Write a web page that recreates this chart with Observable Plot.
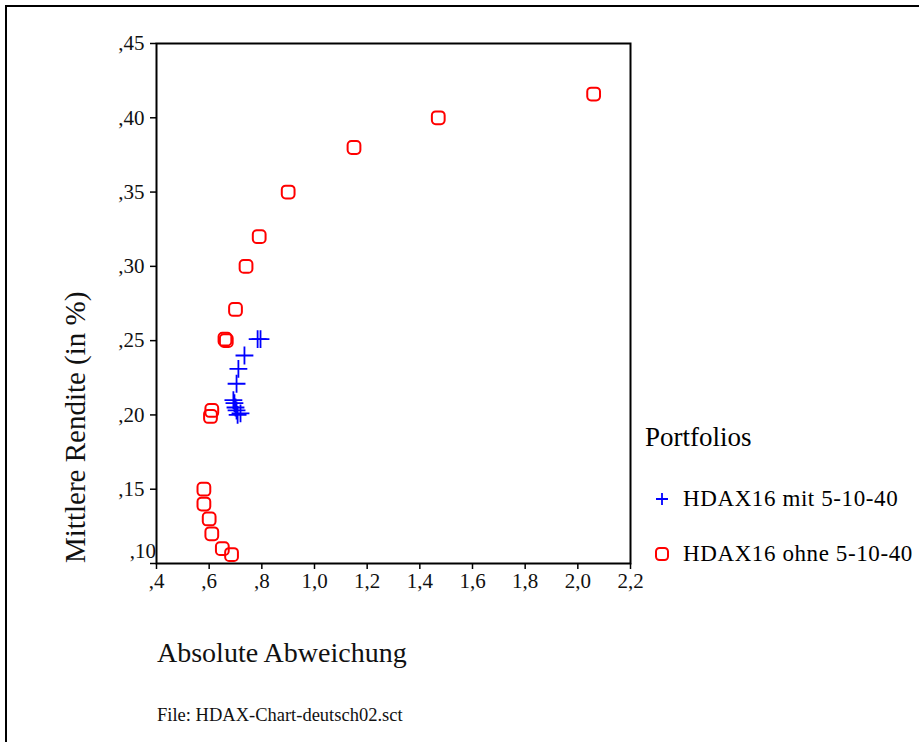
<!DOCTYPE html>
<html>
<head>
<meta charset="utf-8">
<script src="https://cdn.jsdelivr.net/npm/d3@7"></script>
<script src="https://cdn.jsdelivr.net/npm/@observablehq/plot@0.6"></script>
<style>
  html, body { margin: 0; padding: 0; background: #fff; }
  body { width: 919px; height: 742px; position: relative; overflow: hidden; font-family: "Liberation Serif", "DejaVu Serif", serif; }
  #border { position: absolute; left: 5px; top: 5px; width: 930px; height: 760px; border-top: 2px solid #000; border-left: 2px solid #000; box-sizing: border-box; }
  #chart { position: absolute; left: 0; top: 0; }
  .lbl { position: absolute; color: #111; white-space: nowrap; }
  #xlabel { left: 157px; top: 637px; font-size: 28px; }
  #ylabel { left: 75px; top: 563px; font-size: 29px; transform-origin: 0 0; transform: rotate(-90deg) translate(0, -50%); }
  #caption { left: 157px; top: 705px; font-size: 18.5px; }
  #legend { position: absolute; left: 645px; top: 422px; }
  #legend .title { font-size: 27px; margin-bottom: 18px; }
  #legend .item { display: flex; align-items: center; font-size: 23px; height: 55px; letter-spacing: 0.6px; }
  #legend .item svg { margin-left: 8px; margin-right: 12px; }
</style>
</head>
<body>
<div id="border"></div>
<div id="chart"></div>
<div id="ylabel" class="lbl">Mittlere Rendite (in %)</div>
<div id="xlabel" class="lbl">Absolute Abweichung</div>
<div id="caption" class="lbl">File: HDAX-Chart-deutsch02.sct</div>
<div id="legend"></div>
<script>
// ---- data ----
const seriesNames = ["HDAX16 mit 5-10-40", "HDAX16 ohne 5-10-40"];
const mitX = [0.784, 0.795, 0.734, 0.711, 0.704, 0.692, 0.696, 0.700, 0.704, 0.719, 0.708];
const mitY = [0.251, 0.251, 0.240, 0.231, 0.221, 0.210, 0.208, 0.205, 0.203, 0.201, 0.200];
const ohneX = [2.06, 1.47, 1.15, 0.90, 0.79, 0.74, 0.70, 0.66, 0.665, 0.61, 0.605, 0.58, 0.58, 0.60, 0.61, 0.65, 0.685];
const ohneY = [0.416, 0.400, 0.380, 0.350, 0.320, 0.300, 0.271, 0.251, 0.250, 0.203, 0.199, 0.150, 0.140, 0.130, 0.120, 0.110, 0.106];
const xTicks = [0.4, 0.6, 0.8, 1.0, 1.2, 1.4, 1.6, 1.8, 2.0, 2.2];
const yTicks = [0.10, 0.15, 0.20, 0.25, 0.30, 0.35, 0.40, 0.45];

const mit = mitX.map((x, i) => ({x, y: mitY[i], s: seriesNames[0]}));
const ohne = ohneX.map((x, i) => ({x, y: ohneY[i], s: seriesNames[1]}));

const fmtX = d => d < 1 ? d.toFixed(1).replace("0.", ",") : d.toFixed(1).replace(".", ",");
const fmtY = d => d.toFixed(2).replace("0.", ",");

// rounded square symbol
const roundedSquare = {
  draw(context, size) {
    const w = Math.sqrt(size), h = w / 2, r = w * 0.3;
    context.moveTo(-h + r, -h);
    context.arcTo(h, -h, h, h, r);
    context.arcTo(h, h, -h, h, r);
    context.arcTo(-h, h, -h, -h, r);
    context.arcTo(-h, -h, h, -h, r);
    context.closePath();
  }
};

const chart = Plot.plot({
  width: 919,
  height: 742,
  marginLeft: 156,
  marginRight: 289,
  marginTop: 43,
  marginBottom: 179,
  style: { fontFamily: "Liberation Serif, serif", background: "transparent", color: "#111" },
  x: { domain: [0.4, 2.2] },
  y: { domain: [0.10, 0.45] },
  marks: [
    Plot.axisX(xTicks, { tickFormat: fmtX, tickSize: 6, tickPadding: 4, fontSize: 21, label: null, stroke: "#000", strokeWidth: 1.5 }),
    Plot.axisY(yTicks.filter(d => d > 0.1), { tickFormat: fmtY, tickSize: 6, tickPadding: 6, fontSize: 21, label: null, stroke: "#000", strokeWidth: 1.5 }),
    Plot.axisY([0.10], { tickFormat: fmtY, tickSize: 6, tickPadding: 6, fontSize: 21, label: null, stroke: "#000", strokeWidth: 1.5 }),
    Plot.frame({ stroke: "#000", strokeWidth: 2 }),
    Plot.dot(ohne, { x: "x", y: "y", symbol: roundedSquare, r: 7.2, stroke: "#ff0000", strokeWidth: 2, fill: "none" }),
    Plot.dot(mit, { x: "x", y: "y", symbol: "plus", r: 5.8, stroke: "#0000ff", strokeWidth: 1.8 })
  ]
});
document.getElementById("chart").appendChild(chart);

// shift the bottom y tick label up, as in the original
d3.select(chart).selectAll("g[aria-label='y-axis tick label']").filter((d, i, n) => i === n.length - 1)
  .attr("transform", "translate(0,-12)");

// legend
const legend = d3.select("#legend");
legend.append("div").attr("class", "title").text("Portfolios");
const items = [
  { name: seriesNames[0], sym: "plus" },
  { name: seriesNames[1], sym: "square" }
];
for (const it of items) {
  const row = legend.append("div").attr("class", "item");
  const svg = row.append("svg").attr("width", 18).attr("height", 18);
  if (it.sym === "plus") {
    svg.append("path").attr("d", "M9,3V15M3,9H15").attr("stroke", "#0000ff").attr("stroke-width", 1.8).attr("fill", "none");
  } else {
    svg.append("rect").attr("x", 3).attr("y", 3).attr("width", 12).attr("height", 12).attr("rx", 3.5)
      .attr("stroke", "#ff0000").attr("stroke-width", 2).attr("fill", "none");
  }
  row.append("span").text(it.name);
}
</script>
</body>
</html>
